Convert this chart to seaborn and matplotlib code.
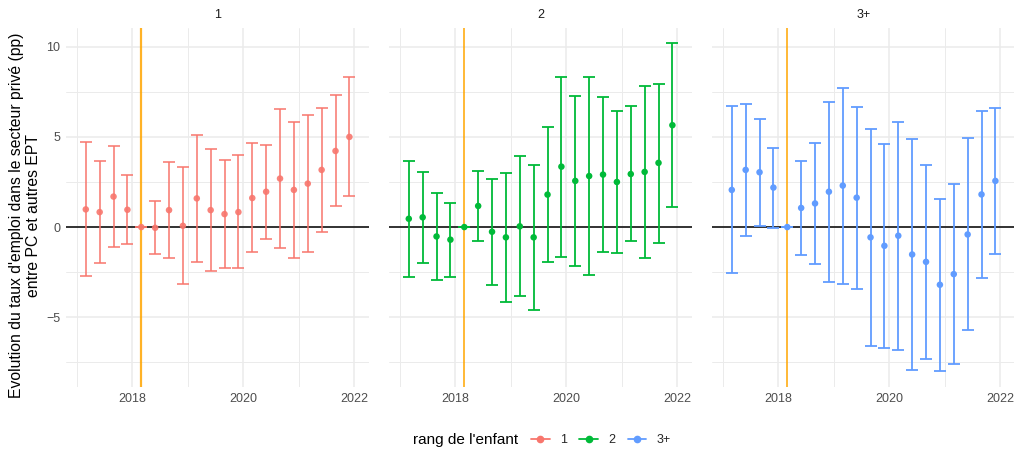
import matplotlib
matplotlib.use("Agg")
import matplotlib.pyplot as plt
from matplotlib.lines import Line2D
from matplotlib.ticker import MultipleLocator
import numpy as np
import pandas as pd
import seaborn as sns

# Quarters 2017T1 .. 2021T4, placed at the middle month of each quarter
years = [2017] * 4 + [2018] * 4 + [2019] * 4 + [2020] * 4 + [2021] * 4
quarters = [1, 2, 3, 4] * 5

groups = ["1", "2", "3+"]
palette = {"1": "#F8766D", "2": "#00BA38", "3+": "#619CFF"}

est_1 = [0.98, 0.83, 1.69, 0.96, 0.0, -0.04, 0.94, 0.07, 1.59, 0.94,
         0.72, 0.83, 1.61, 1.96, 2.69, 2.06, 2.41, 3.17, 4.22, 5.00]
low_1 = [-2.72, -2.00, -1.11, -0.93, 0.0, -1.50, -1.70, -3.17, -1.93, -2.41,
         -2.26, -2.26, -1.41, -0.65, -1.15, -1.70, -1.39, -0.26, 1.19, 1.72]
high_1 = [4.69, 3.67, 4.48, 2.87, 0.0, 1.44, 3.59, 3.31, 5.09, 4.33,
          3.70, 3.98, 4.65, 4.57, 6.56, 5.83, 6.24, 6.63, 7.30, 8.30]

est_2 = [0.46, 0.54, -0.52, -0.70, 0.0, 1.17, -0.26, -0.57, 0.04, -0.57,
         1.80, 3.35, 2.56, 2.83, 2.91, 2.50, 2.94, 3.06, 3.56, 5.65]
low_2 = [-2.76, -2.00, -2.93, -2.76, 0.0, -0.78, -3.22, -4.17, -3.85, -4.61,
         -1.96, -1.65, -2.15, -2.65, -1.41, -1.43, -0.78, -1.74, -0.87, 1.13]
high_2 = [3.69, 3.06, 1.87, 1.35, 0.0, 3.13, 2.67, 3.02, 3.93, 3.44,
          5.54, 8.33, 7.26, 8.30, 7.20, 6.41, 6.69, 7.83, 7.96, 10.19]

est_3 = [2.06, 3.17, 3.04, 2.19, 0.0, 1.06, 1.31, 1.96, 2.30, 1.63,
         -0.57, -1.04, -0.48, -1.52, -1.93, -3.20, -2.61, -0.41, 1.81, 2.56]
low_3 = [-2.56, -0.50, 0.06, -0.06, 0.0, -1.57, -2.04, -3.02, -3.17, -3.41,
         -6.57, -6.70, -6.81, -7.91, -7.30, -7.96, -7.57, -5.70, -2.80, -1.48]
high_3 = [6.69, 6.83, 6.00, 4.37, 0.0, 3.69, 4.65, 6.96, 7.74, 6.65,
          5.43, 4.63, 5.83, 4.91, 3.44, 1.57, 2.37, 4.93, 6.46, 6.61]

reference_year, reference_quarter = 2018, 1

frames = []
for g, e, lo, hi in zip(groups, [est_1, est_2, est_3],
                        [low_1, low_2, low_3], [high_1, high_2, high_3]):
    frames.append(pd.DataFrame({"rang": g, "annee": years, "trimestre": quarters,
                                "estimate": e, "low": lo, "high": hi}))
df = pd.concat(frames, ignore_index=True)
df["date"] = df["annee"] + (3 * df["trimestre"] - 1) / 12.0
ref_date = reference_year + (3 * reference_quarter - 1) / 12.0

sns.set_theme(style="whitegrid")
plt.rcParams["font.family"] = ["Liberation Sans", "DejaVu Sans"]

W, H = 1014, 453
fig = plt.figure(figsize=(W / 100, H / 100), dpi=100)

left0, pw, gap = 66, 303, 20
top, bottom = 28, 387
axes = []
for i in range(3):
    x0 = left0 + i * (pw + gap)
    ax = fig.add_axes([x0 / W, 1 - bottom / H, pw / W, (bottom - top) / H])
    axes.append(ax)

grid_col = "#EBEBEB"
for ax, g in zip(axes, groups):
    sub = df[df["rang"] == g]
    col = palette[g]
    ax.set_facecolor("white")
    for s in ax.spines.values():
        s.set_visible(False)
    ax.set_xlim(2016.81, 2022.27)
    ax.set_ylim(-8.87, 11.04)
    ax.xaxis.set_major_locator(MultipleLocator(2))
    ax.xaxis.set_minor_locator(MultipleLocator(1))
    ax.yaxis.set_major_locator(MultipleLocator(5))
    ax.yaxis.set_minor_locator(MultipleLocator(2.5))
    ax.grid(True, which="major", color=grid_col, linewidth=1.1)
    ax.grid(True, which="minor", color=grid_col, linewidth=0.7)
    ax.set_axisbelow(True)
    ax.tick_params(which="both", length=0, labelsize=9, colors="#4D4D4D", pad=4)

    ax.axhline(0, color="black", linewidth=1.1, zorder=2)
    ax.axvline(ref_date, color="#FFA500", linewidth=1.6 if g == "1" else 1.1,
               alpha=0.85 if g == "1" else 1.0, zorder=2)

    ax.errorbar(sub["date"], sub["estimate"],
                yerr=[sub["estimate"] - sub["low"], sub["high"] - sub["estimate"]],
                fmt="none", ecolor=col, elinewidth=1.3, capsize=4.2, capthick=1.3,
                alpha=0.85 if g == "1" else 1.0, zorder=3)
    sns.scatterplot(data=sub, x="date", y="estimate", color=col, s=22,
                    edgecolor="none", ax=ax, zorder=4, legend=False,
                    alpha=0.9 if g == "1" else 1.0)
    ax.set_xlabel("")
    ax.set_ylabel("")
    ax.set_xticks([2018, 2020, 2022])
    ax.set_xticklabels(["2018", "2020", "2022"])
    ax.set_title(g, fontsize=9, color="#1A1A1A", pad=7)
    if ax is not axes[0]:
        ax.set_yticklabels([])
    else:
        ax.set_yticks([-5, 0, 5, 10])
        ax.set_yticklabels(["\u22125", "0", "5", "10"])

axes[0].set_ylabel("Evolution du taux d'emploi dans le secteur privé (pp)\nentre PC et autres EPT",
                   fontsize=11.3, color="black", linespacing=1.1)
axes[0].yaxis.set_label_coords(-0.084, 0.479)

handles = [Line2D([0], [0], color=palette[g], marker="o", markersize=4.5,
                  linewidth=1.3) for g in groups]
fig.text(518 / W, 1 - 440 / H, "rang de l'enfant", ha="right", va="center",
         fontsize=11, color="black")
fig.legend(handles, groups, loc="center left", bbox_to_anchor=(531 / W, 1 - 440 / H),
           ncol=3, frameon=False, fontsize=9, handlelength=1.5, handletextpad=0.8,
           columnspacing=1.0, borderaxespad=0, borderpad=0)

fig.savefig("out.png", dpi=100)
